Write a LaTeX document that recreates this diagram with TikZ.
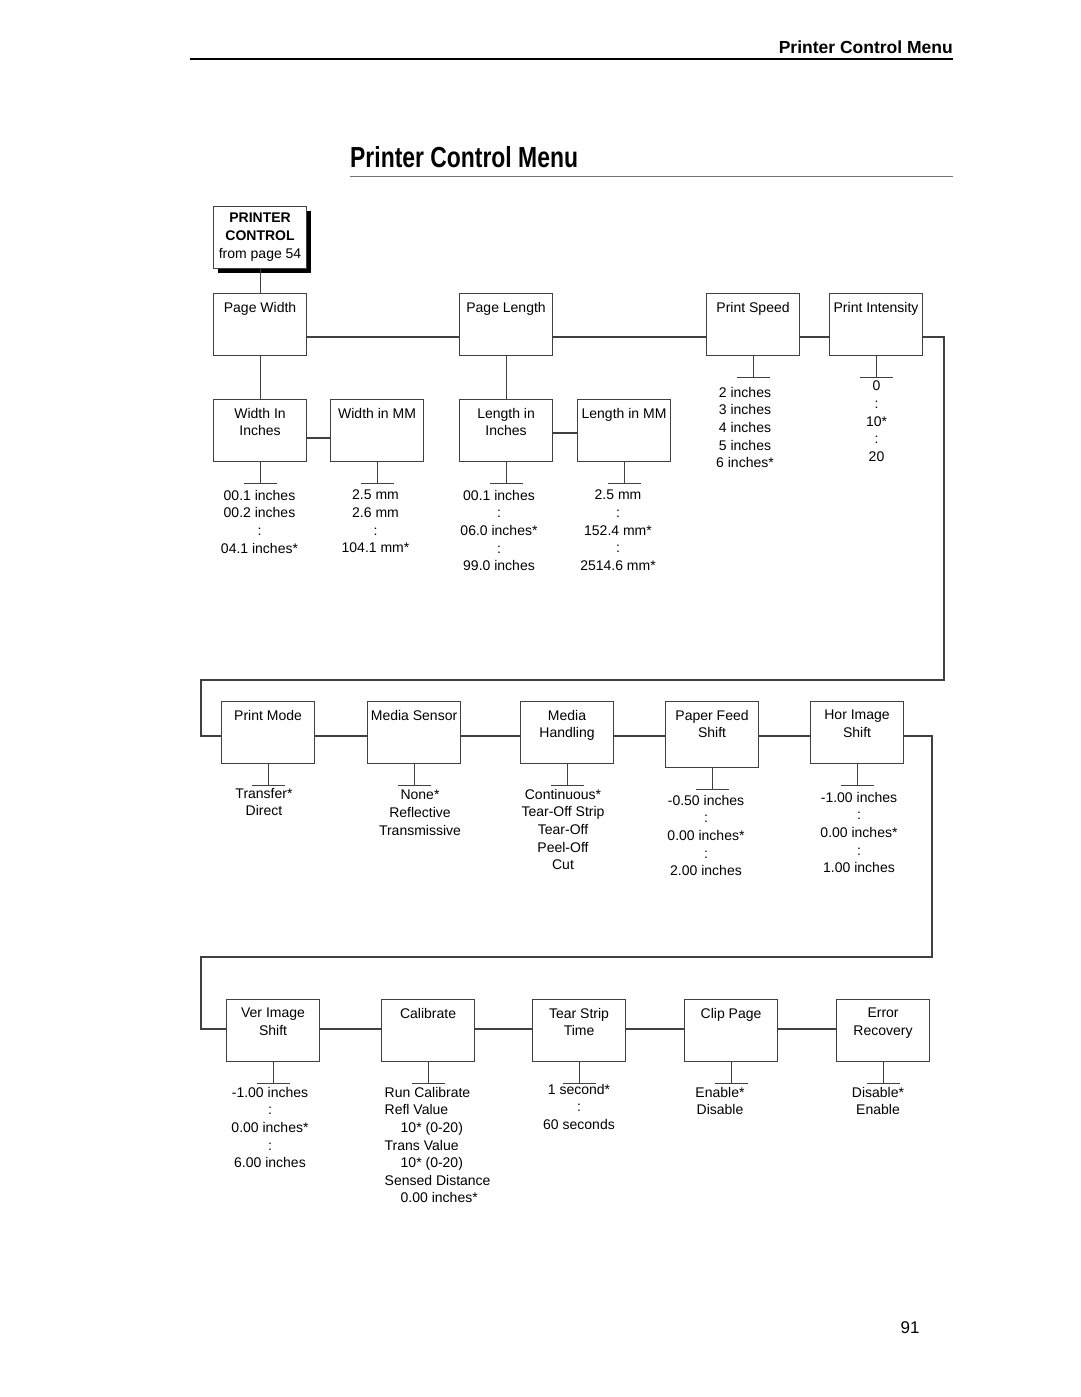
\documentclass[tikz,border=0pt]{standalone}
\usepackage{fontspec}
\setmainfont{Liberation Sans}

\begin{document}
\begin{tikzpicture}[x=1pt,y=-1pt]
		\tikzset{menu/.style = {shape=rectangle,draw=black!75,line width=1.1pt,fill=white,minimum width=93pt,minimum height=62pt,anchor=north west,inner sep=0pt,font=\fontsize{14}{17.6}\selectfont}}
		\tikzset{boxtext/.style = {anchor=north,yshift=-9pt,inner sep=0pt,align=center,font=\fontsize{14}{17.6}\selectfont}}
		\tikzset{vals/.style = {anchor=north,inner sep=0pt,align=center,font=\fontsize{14}{17.6}\selectfont}}
		\tikzset{edge/.style = {-,draw=black!75,line width=1.1pt}}
		\useasboundingbox (0,0) rectangle (1080,1397);
		%page heading
		\node[anchor=base east,inner sep=0pt] (head) at (953,54) {\fontsize{17.5}{18}\selectfont\bfseries Printer Control Menu};
		\draw[line width=2pt] (190,59) -- (953,59);
		\node[anchor=base west,inner sep=0pt] (title) at (350,167) {\fontsize{29}{30}\selectfont\bfseries\scalebox{0.79}[1]{Printer Control Menu}};
		\draw[black!55,line width=1pt] (350,176) -- (953,176);
		\node[anchor=base,inner sep=0pt] (pgno) at (910,1333) {\fontsize{17}{18}\selectfont 91};
		%start box
		\node[menu,align=center,preaction={fill=black,transform canvas={shift={(4pt,-4pt)}}}] (pc) at (213,206) {\textbf{PRINTER}\\[0.4pt]\textbf{CONTROL}\\[0.4pt]from page 54};
		%first row
		\node[menu,label={[boxtext]north:Page Width}] (pw) at (213,293) {};
		\node[menu,label={[boxtext]north:Page Length}] (pl) at (459,293) {};
		\node[menu,label={[boxtext]north:Print Speed}] (ps) at (706,293) {};
		\node[menu,label={[boxtext]north:Print Intensity}] (pi) at (829,293) {};
		\node[menu,label={[boxtext]north:{Width In\\Inches}}] (wi) at (213,399) {};
		\node[menu,label={[boxtext]north:Width in MM}] (wm) at (330,399) {};
		\node[menu,label={[boxtext]north:{Length in\\Inches}}] (li) at (459,399) {};
		\node[menu,label={[boxtext]north:Length in MM}] (lm) at (577,399) {};
		%second row
		\node[menu,label={[boxtext]north:Print Mode}] (pm) at (221,701) {};
		\node[menu,label={[boxtext]north:Media Sensor}] (ms) at (367,701) {};
		\node[menu,label={[boxtext]north:{Media\\Handling}}] (mh) at (520,701) {};
		\node[menu,minimum height=66pt,label={[boxtext]north:{Paper Feed\\Shift}}] (pf) at (665,701) {};
		\node[menu,label={[boxtext]north:{Hor Image\\Shift}}] (hi) at (810,701) {};
		%third row
		\node[menu,label={[boxtext]north:{Ver Image\\Shift}}] (vi) at (226,999) {};
		\node[menu,label={[boxtext]north:Calibrate}] (ca) at (381,999) {};
		\node[menu,label={[boxtext]north:{Tear Strip\\Time}}] (ts) at (532,999) {};
		\node[menu,label={[boxtext]north:Clip Page}] (cp) at (684,999) {};
		\node[menu,label={[boxtext]north:{Error\\Recovery}}] (er) at (836,999) {};
		%values
		\node[vals] (wiv) at (259.5,490) {00.1 inches\\00.2 inches\\:\\04.1 inches*};
		\node[vals] (wmv) at (375.5,490) {2.5 mm\\2.6 mm\\:\\104.1 mm*};
		\node[vals] (liv) at (499,490) {00.1 inches\\:\\06.0 inches*\\:\\99.0 inches};
		\node[vals] (lmv) at (618,490) {2.5 mm\\:\\152.4 mm*\\:\\2514.6 mm*};
		\node[vals] (psv) at (745,387) {2 inches\\3 inches\\4 inches\\5 inches\\6 inches*};
		\node[vals] (piv) at (876.5,381) {0\\:\\10*\\:\\20};
		\node[vals] (pmv) at (264,788) {Transfer*\\Direct};
		\node[vals] (msv) at (420,790) {None*\\Reflective\\Transmissive};
		\node[vals] (mhv) at (563,789) {Continuous*\\Tear-Off Strip\\Tear-Off\\Peel-Off\\Cut};
		\node[vals] (pfv) at (706,795) {-0.50 inches\\:\\0.00 inches*\\:\\2.00 inches};
		\node[vals] (hiv) at (859,792) {-1.00 inches\\:\\0.00 inches*\\:\\1.00 inches};
		\node[vals] (viv) at (270,1087) {-1.00 inches\\:\\0.00 inches*\\:\\6.00 inches};
		\node[vals,anchor=north west,align=left] (cav) at (384.5,1087) {Run Calibrate\\Refl Value\\\hspace*{16pt}10* (0-20)\\Trans Value\\\hspace*{16pt}10* (0-20)\\Sensed Distance\\\hspace*{16pt}0.00 inches*};
		\node[vals] (tsv) at (579,1084) {1 second*\\:\\60 seconds};
		\node[vals] (cpv) at (720,1087) {Enable*\\Disable};
		\node[vals] (erv) at (878,1087) {Disable*\\Enable};
		%row heights of the connectors
		\coordinate (r1) at (0,337);
		\coordinate (r1a) at (0,438);
		\coordinate (r1b) at (0,433);
		\coordinate (r2) at (0,736);
		\coordinate (r3) at (0,1029);
		\coordinate (loopa) at (944,680);
		\coordinate (loopb) at (201,680);
		\coordinate (loopc) at (932,957);
		\coordinate (loopd) at (201,957);
		%edges
		\draw[edge] (pc) to (pw);
		\draw[edge] (pw) to (wi);
		\draw[edge] (pl) to (li);
		\draw[edge] (pw.east |- r1) -- (pl.west |- r1);
		\draw[edge] (pl.east |- r1) -- (ps.west |- r1);
		\draw[edge] (ps.east |- r1) -- (pi.west |- r1);
		\draw[edge] (wi.east |- r1a) -- (wm.west |- r1a);
		\draw[edge] (li.east |- r1b) -- (lm.west |- r1b);
		\draw[edge] (pi.east |- r1) -| (loopa) -- (loopb) |- (pm.west |- r2);
		\draw[edge] (pm.east |- r2) -- (ms.west |- r2);
		\draw[edge] (ms.east |- r2) -- (mh.west |- r2);
		\draw[edge] (mh.east |- r2) -- (pf.west |- r2);
		\draw[edge] (pf.east |- r2) -- (hi.west |- r2);
		\draw[edge] (hi.east |- r2) -| (loopc) -- (loopd) |- (vi.west |- r3);
		\draw[edge] (vi.east |- r3) -- (ca.west |- r3);
		\draw[edge] (ca.east |- r3) -- (ts.west |- r3);
		\draw[edge] (ts.east |- r3) -- (cp.west |- r3);
		\draw[edge] (cp.east |- r3) -- (er.west |- r3);
		%value bars
		\foreach \n in {wi,wm,li,lm,ps,pi,pm,ms,mh,pf,hi,vi,ca,ts,cp,er}
			\draw[edge] (\n.south) -- ++(0,21) ++(-16.5,0) -- ++(33,0);
\end{tikzpicture}
\end{document}
